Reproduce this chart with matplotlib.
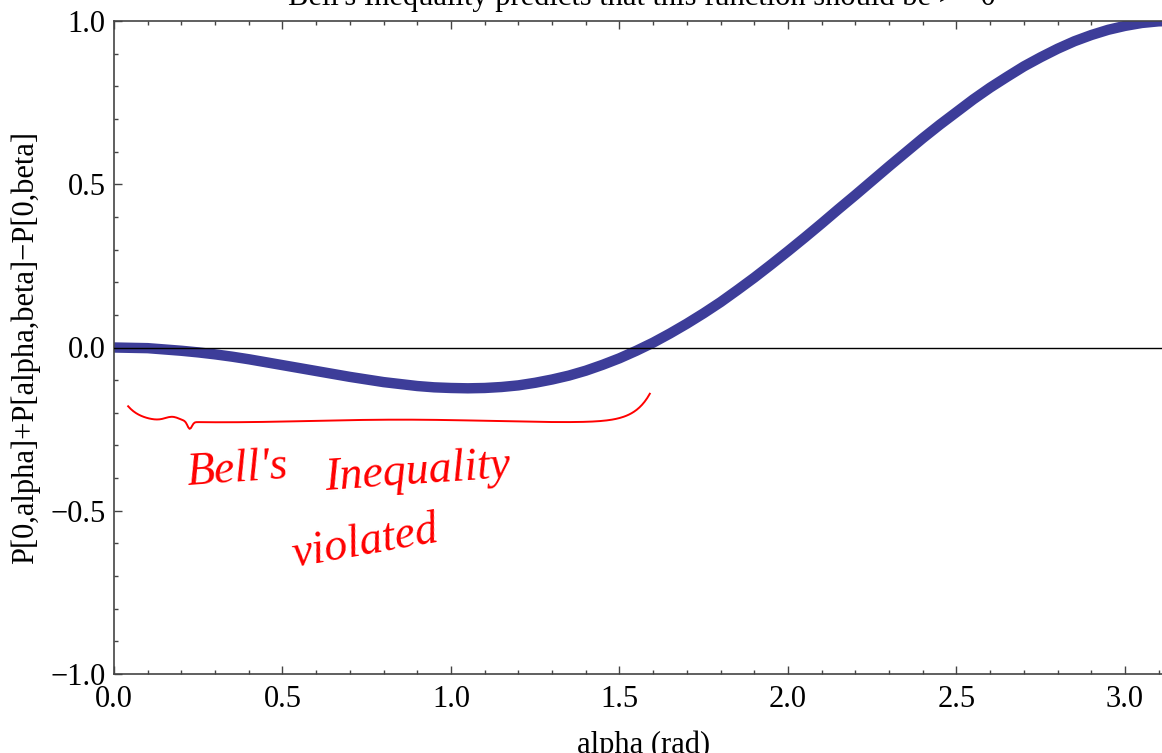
import numpy as np
import matplotlib
matplotlib.use("Agg")
import matplotlib.pyplot as plt
from matplotlib.ticker import MultipleLocator, FuncFormatter

# ---- data ----
alpha = [0.00, 0.05, 0.10, 0.15, 0.20, 0.25, 0.30, 0.35, 0.40, 0.45,
         0.50, 0.55, 0.60, 0.65, 0.70, 0.75, 0.80, 0.85, 0.90, 0.95,
         1.00, 1.05, 1.10, 1.15, 1.20, 1.25, 1.30, 1.35, 1.40, 1.45,
         1.50, 1.55, 1.60, 1.65, 1.70, 1.75, 1.80, 1.85, 1.90, 1.95,
         2.00, 2.05, 2.10, 2.15, 2.20, 2.25, 2.30, 2.35, 2.40, 2.45,
         2.50, 2.55, 2.60, 2.65, 2.70, 2.75, 2.80, 2.85, 2.90, 2.95,
         3.00, 3.05, 3.10, 3.1416]
value = [0.000, -0.001, -0.002, -0.006, -0.010, -0.015, -0.021, -0.028, -0.036, -0.045,
         -0.054, -0.063, -0.072, -0.081, -0.090, -0.098, -0.106, -0.112, -0.118, -0.122,
         -0.124, -0.125, -0.124, -0.121, -0.116, -0.108, -0.098, -0.086, -0.071, -0.053,
         -0.033, -0.010, 0.015, 0.043, 0.073, 0.105, 0.139, 0.176, 0.214, 0.254,
         0.295, 0.337, 0.380, 0.424, 0.467, 0.511, 0.555, 0.598, 0.641, 0.682,
         0.721, 0.760, 0.796, 0.829, 0.861, 0.889, 0.915, 0.938, 0.957, 0.973,
         0.985, 0.994, 0.999, 1.000]

title = "Bell's Inequality predicts that this function should be >= 0"
xlabel = "alpha (rad)"
ylabel = "P[0,alpha]+P[alpha,beta]\u2212P[0,beta]"
note_words = ["Bell's", "Inequality", "violated"]
brace_range = (0.042, 1.59)   # alpha span of the hand-drawn brace
brace_level = -0.225

W, H = 1162, 753
plt.rcParams['font.family'] = ['Liberation Serif', 'DejaVu Serif']
fig = plt.figure(figsize=(W / 100, H / 100), dpi=100)

x0_px, x_pi_px, top_px, bot_px = 114, 1172.7, 21, 674
axw = x_pi_px - x0_px
ax = fig.add_axes([x0_px / W, 1 - bot_px / H, axw / W, (bot_px - top_px) / H])

curve_color = (0.24, 0.24, 0.6)
ax.plot(alpha, value, color=curve_color, lw=7.5, solid_capstyle='butt',
        solid_joinstyle='round', zorder=2)
ax.axhline(0, color='black', lw=1.0, zorder=3)

ax.set_xlim(0, np.pi)
ax.set_ylim(-1, 1)

fmt = FuncFormatter(lambda v, p: ('%.1f' % v).replace('-', '\u2212'))
ax.xaxis.set_major_locator(MultipleLocator(0.5))
ax.xaxis.set_minor_locator(MultipleLocator(0.1))
ax.yaxis.set_major_locator(MultipleLocator(0.5))
ax.yaxis.set_minor_locator(MultipleLocator(0.1))
ax.xaxis.set_major_formatter(fmt)
ax.yaxis.set_major_formatter(fmt)

spine_c = '#444444'
for s in ['left', 'bottom', 'top', 'right']:
    ax.spines[s].set_color(spine_c)
    ax.spines[s].set_linewidth(1.2)

ax.tick_params(which='both', direction='in', top=True, right=True, color=spine_c, width=1.0)
ax.tick_params(which='major', length=5.5, labelsize=22, pad=6)
ax.tick_params(which='minor', length=3.2)
ax.tick_params(axis='x', which='major', pad=8)

ax.set_xlabel(xlabel, fontsize=22, labelpad=12)
ax.set_ylabel(ylabel, fontsize=22)
ax.yaxis.set_label_coords((40 - x0_px) / axw, 0.5)

fig.text(642 / W, 1 - 5 / H, title, ha='center', va='baseline', fontsize=22)

# ---- hand-drawn red annotation ----
red = (1.0, 0.0, 0.0)
t = np.linspace(0, 1, 400)
bx = brace_range[0] + t * (brace_range[1] - brace_range[0])
by = (brace_level
      + 0.045 * np.exp(-t / 0.025)
      + 0.085 * np.exp(-(1 - t) / 0.03)
      + 0.014 * np.exp(-((t - 0.085) / 0.02) ** 2)
      - 0.022 * np.exp(-((t - 0.118) / 0.006) ** 2)
      - 0.004 * np.sin(t * 9))
ax.plot(bx, by, color=red, lw=1.4, zorder=4)

def px2data(px, py):
    return ((px - x0_px) / axw * np.pi, (347.5 - py) / 326.5)

hand = dict(color=red, fontsize=33, fontstyle='italic', family=['Liberation Serif'])
ax.text(*px2data(237, 470), note_words[0], ha='center', va='center', rotation=4, **hand)
ax.text(*px2data(418, 472), note_words[1], ha='center', va='center', rotation=4, **hand)
ax.text(*px2data(365, 543), note_words[2], ha='center', va='center', rotation=10, **hand)

fig.savefig('out.png', dpi=100)
